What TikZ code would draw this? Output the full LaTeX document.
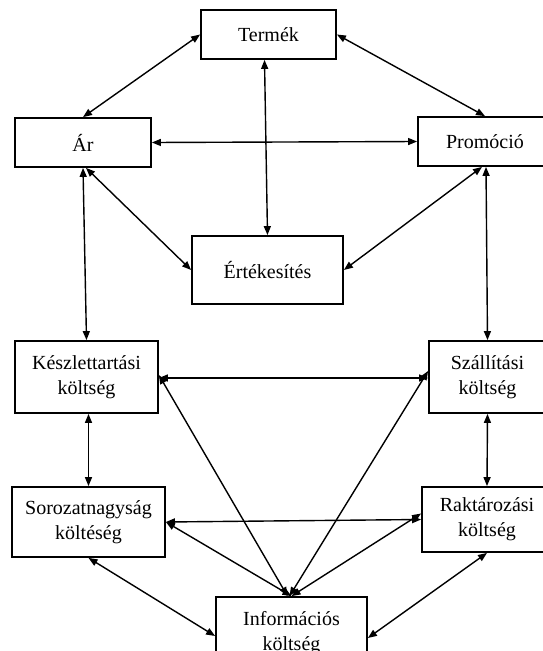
\documentclass[tikz,border=0pt]{standalone}
\usepackage{fontspec}
\setmainfont{Liberation Serif}
\usetikzlibrary{arrows.meta}

\tikzset{
  box/.style={draw, line width=1.8pt, inner sep=0pt, align=center,
    font=\fontsize{20}{25}\selectfont},
  link/.style={line width=1.4pt,
    {Triangle[length=9pt,width=7pt]}-{Triangle[length=9pt,width=7pt]}}
}

\begin{document}
\begin{tikzpicture}[x=1pt, y=-1pt]
\useasboundingbox (0,0) rectangle (542,651);

% marketing mix
\node[box, minimum width=135pt, minimum height=49pt] (termek) at (268.5,34.5) {Termék};
\node[box, minimum width=136pt, minimum height=49pt] (ar)     at (83,142.5)   {Ár};
\node[box, minimum width=134pt, minimum height=49pt] (promo)  at (485,141.5)  {Promóció};
\node[box, minimum width=151pt, minimum height=68pt] (ertek)  at (267.5,270)  {Értékesítés};

% cost elements
\node[box, minimum width=143pt, minimum height=72pt] (keszlet) at (86.5,377)  {Készlettartási\\költség};
\node[box, minimum width=117pt, minimum height=72pt] (szall)   at (487.5,377) {Szállítási\\költség};
\node[box, minimum width=153pt, minimum height=70pt] (soroz)   at (88.5,522)  {Sorozatnagyság\\költéség};
\node[box, minimum width=130pt, minimum height=65pt] (rakt)    at (487,519.5) {Raktározási\\költség};
\node[box, minimum width=151pt, minimum height=72pt] (info)    at (291.5,633) {Információs\\költség};

% upper relations
\draw[link] (termek.west) -- (ar.north);
\draw[link] (termek.east) -- (promo.north);
\draw[link] (ar.east) -- (promo.west);
\draw[link] ([xshift=-4pt]termek.south) -- (ertek.north);
\draw[link] ([xshift=3pt]ar.south) -- (ertek.west);
\draw[link] ([xshift=-3pt]promo.south) -- (ertek.east);

% links between the two groups
\draw[link] (ar.south) -- (keszlet.north);
\draw[link] ([xshift=1pt]promo.south) -- (szall.north);

% lower relations
\draw[link] ([yshift=-1pt]keszlet.east) -- ([yshift=-1pt]szall.west);
\draw[link] ([xshift=2pt]keszlet.south) -- (soroz.north);
\draw[link] (szall.south) -- (rakt.north);
\draw[link] (soroz.east) -- (rakt.west);
\draw[link] ([yshift=2pt]keszlet.east) -- ([xshift=-4pt]info.north);
\draw[link] ([yshift=6pt]szall.west) -- ([xshift=-2pt]info.north);
\draw[link] (soroz.east) -- (info.north);
\draw[link] ([yshift=6pt]rakt.west) -- (info.north);
\draw[link] (soroz.south) -- ([yshift=-3pt]info.west);
\draw[link] (rakt.south) -- ([yshift=-5pt]info.east);
\end{tikzpicture}
\end{document}
